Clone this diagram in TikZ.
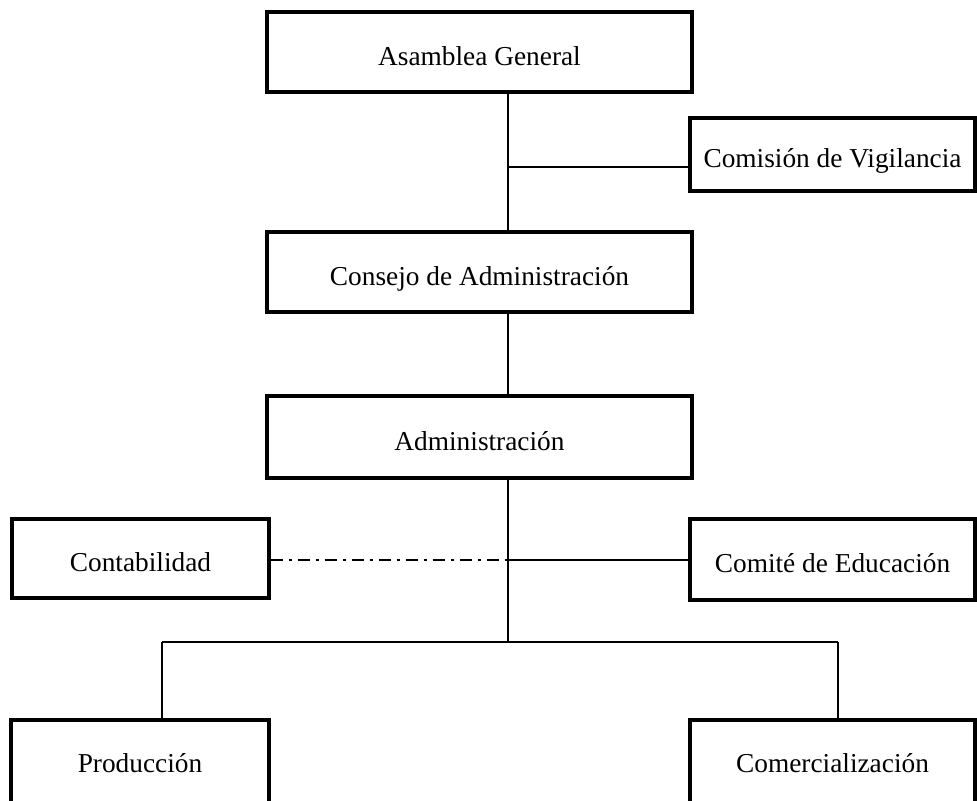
\documentclass[tikz,border=0pt]{standalone}
\usepackage{fontspec}
\setmainfont{Liberation Serif}
\begin{document}
\begin{tikzpicture}[x=0.75pt,y=-0.75pt,
  box/.style={draw, line width=2.6pt, inner sep=0pt, text height=19.5pt, text depth=0pt,
    font=\fontsize{20.5}{24}\selectfont},
  lowbox/.style={box, text height=13.4pt, text depth=9pt},
  conn/.style={line width=1.25pt},
  dashdot line/.style={conn, dash pattern=on 9pt off 4.5pt on 2.25pt off 4.5pt}]
\useasboundingbox (0,0) rectangle (977,800);
\clip (0,0) rectangle (977,800);
% boxes
\node[box, minimum width=425*0.75pt, minimum height=80*0.75pt] (ag) at (479.5,52) {Asamblea General};
\node[box, minimum width=285*0.75pt, minimum height=73*0.75pt] (cv) at (832.5,154.5) {Comisión de Vigilancia};
\node[box, minimum width=425*0.75pt, minimum height=80*0.75pt] (ca) at (479.5,272) {Consejo de Administración};
\node[box, minimum width=425*0.75pt, minimum height=82*0.75pt] (ad) at (479.5,437) {Administración};
\node[box, minimum width=257*0.75pt, minimum height=79*0.75pt] (co) at (140.5,558.5) {Contabilidad};
\node[box, minimum width=285*0.75pt, minimum height=81*0.75pt] (ce) at (832.5,559.5) {Comité de Educación};
\node[lowbox, minimum width=258*0.75pt, minimum height=100*0.75pt] (pr) at (140,770) {Producción};
\node[lowbox, minimum width=285*0.75pt, minimum height=100*0.75pt] (cm) at (832.5,770) {Comercialización};
% junction coordinates
\coordinate (v) at (508,0);
\coordinate (jc) at (508,167);
\coordinate (je) at (508,560);
\coordinate (jb) at (508,642);
\coordinate (pl) at (162,642);
\coordinate (cl) at (838,642);
% connectors
\draw[conn] (ag.south -| v) -- (ca.north -| v);
\draw[conn] (jc) -- (jc -| cv.west);
\draw[conn] (ca.south -| v) -- (ad.north -| v);
\draw[conn] (ad.south -| v) -- (jb);
\draw[dashdot line] (co.east |- je) -- (je);
\draw[conn] (je) -- (je -| ce.west);
\draw[conn] (pl) -- (cl);
\draw[conn] (pl) -- (pl |- pr.north);
\draw[conn] (cl) -- (cl |- cm.north);
\end{tikzpicture}
\end{document}
